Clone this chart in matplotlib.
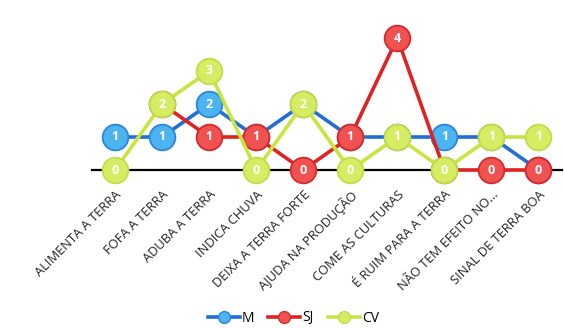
import matplotlib
matplotlib.use("Agg")
import matplotlib.pyplot as plt
import numpy as np
from matplotlib.lines import Line2D

categories = ["ALIMENTA A TERRA", "FOFA A TERRA", "ADUBA A TERRA", "INDICA CHUVA",
              "DEIXA A TERRA FORTE", "AJUDA NA PRODUÇÃO", "COME AS CULTURAS",
              "É RUIM PARA A TERRA", "NÃO TEM EFEITO NO...", "SINAL DE TERRA BOA"]
M = [1, 1, 2, 1, 2, 1, 1, 1, 1, 0]
SJ = [np.nan, 2, 1, 1, 0, 1, 4, 0, 0, 0]
CV = [0, 2, 3, 0, 2, 0, 1, 0, 1, 1]

series = [
    ("M", M, "#1F6FD6", "#4DB4F2", "#2A86DA"),
    ("SJ", SJ, "#E02222", "#F05252", "#D42A2A"),
    ("CV", CV, "#C8E43E", "#D6EC62", "#C2DC48"),
]

plt.rcParams['font.family'] = ['Open Sans', 'DejaVu Sans']
fig = plt.figure(figsize=(5.64, 3.29), dpi=100)
ax = fig.add_axes([92/564, 1-170/329, 470/564, (170-21.5)/329])
x = np.arange(len(categories))
for i, (name, vals, lc, fc, ec) in enumerate(series):
    v = np.array(vals, dtype=float)
    ax.plot(x, v, color=lc, lw=2.6, marker='o', ms=18.5, mfc=fc, mec=ec, mew=1.3,
            clip_on=False, zorder=3 + i)
    for xi, yi in zip(x, v):
        if not np.isnan(yi):
            ax.text(xi, yi, f"{int(yi)}", ha='center', va='center', color='white',
                    fontsize=9, fontweight='bold', zorder=3.5 + i)

ax.set_xlim(-0.49, 9.5)
ax.set_ylim(0, 4.5)
for s in ['top', 'right', 'left']:
    ax.spines[s].set_visible(False)
ax.spines['bottom'].set_linewidth(1.6)
ax.spines['bottom'].set_color('black')
ax.spines['bottom'].set_zorder(2)
ax.set_yticks([])
ax.set_xticks(x)
ax.set_xticklabels(categories, rotation=45, ha='right', rotation_mode='anchor',
                   fontsize=9.3, color='#222222')
ax.tick_params(axis='x', length=0, pad=13)

handles = [Line2D([0], [0], color=lc, lw=2.6, marker='o', ms=8.5, mfc=fc, mec=ec)
           for _, _, lc, fc, ec in series]
fig.legend(handles, [s[0] for s in series], loc='center', bbox_to_anchor=(0.52, 1-318/329),
           ncol=3, frameon=False, fontsize=10, handlelength=2.3, columnspacing=1.0,
           handletextpad=0.15)
fig.savefig("out.png", dpi=100)
